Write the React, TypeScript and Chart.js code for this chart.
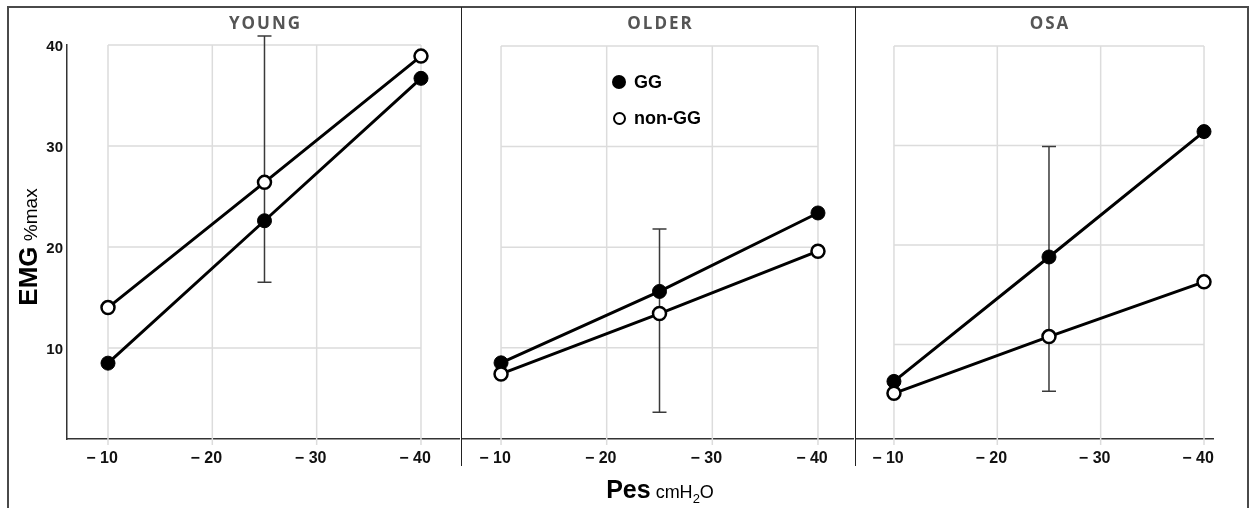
import React, { useEffect, useRef } from 'react';
import { Chart, registerables } from 'chart.js';

Chart.register(...registerables);

// ---- data ----
const PRESSURE = [-10, -25, -40];
const X_TICKS = [-10, -20, -30, -40];
const X_TICK_LABELS = ['− 10', '− 20', '− 30', '− 40'];
const Y_TICKS = [10, 20, 30, 40];
const Y_TICK_LABELS = ['10', '20', '30', '40'];
const PANEL_TITLES = ['YOUNG', 'OLDER', 'OSA'];
const SERIES_NAMES = ['GG', 'non-GG'];

const YOUNG_GG = [8.5, 22.6, 36.7];
const YOUNG_NON_GG = [14.0, 26.4, 38.9];
const OLDER_GG = [8.5, 15.6, 23.4];
const OLDER_NON_GG = [7.4, 13.4, 19.6];
const OSA_GG = [6.3, 18.8, 31.4];
const OSA_NON_GG = [5.1, 10.8, 16.3];

// error bar (low, high) at Pes = -25
const ERROR_AT = -25;
const YOUNG_ERR = [16.5, 40.9];
const OLDER_ERR = [3.6, 21.8];
const OSA_ERR = [5.3, 29.9];

const FONT = "'Liberation Sans', Arial, Helvetica, sans-serif";

const PANELS = [
  { title: PANEL_TITLES[0], gg: YOUNG_GG, non: YOUNG_NON_GG, err: YOUNG_ERR, left: 9, width: 451, padTop: 37, padRight: 0, xMin: -43.74, xMax: -6.07, yMin: 0.99, showY: true },
  { title: PANEL_TITLES[1], gg: OLDER_GG, non: OLDER_NON_GG, err: OLDER_ERR, left: 461, width: 393, padTop: 38, padRight: 0, xMin: -43.41, xMax: -6.21, yMin: 0.93, showY: false },
  { title: PANEL_TITLES[2], gg: OSA_GG, non: OSA_NON_GG, err: OSA_ERR, left: 855, width: 392, padTop: 38, padRight: 34, xMin: -40.87, xMax: -6.23, yMin: 0.51, showY: false },
];

const CANVAS_TOP = 8;
const CANVAS_H = 470;

const gridAndErrorPlugin = {
  id: 'gridAndError',
  beforeDatasetsDraw(chart: any, _args: any, opts: any) {
    const { ctx, scales, chartArea } = chart;
    const x = scales.x;
    const y = scales.y;
    const x0 = x.getPixelForValue(X_TICKS[0]);
    const x1 = x.getPixelForValue(X_TICKS[X_TICKS.length - 1]);
    const yTop = y.getPixelForValue(Y_TICKS[Y_TICKS.length - 1]);
    ctx.save();
    ctx.strokeStyle = '#dcdcdc';
    ctx.lineWidth = 1.5;
    ctx.beginPath();
    X_TICKS.forEach((v) => {
      const px = x.getPixelForValue(v);
      ctx.moveTo(px, yTop);
      ctx.lineTo(px, chartArea.bottom + 6);
    });
    Y_TICKS.forEach((v) => {
      const py = y.getPixelForValue(v);
      ctx.moveTo(x0, py);
      ctx.lineTo(x1, py);
    });
    ctx.stroke();
    // error bar
    const err = opts.err as number[];
    const ex = x.getPixelForValue(ERROR_AT);
    const lo = y.getPixelForValue(err[0]);
    const hi = y.getPixelForValue(err[1]);
    ctx.strokeStyle = '#3a3a3a';
    ctx.lineWidth = 1.5;
    ctx.beginPath();
    ctx.moveTo(ex, lo);
    ctx.lineTo(ex, hi);
    ctx.moveTo(ex - 7, lo);
    ctx.lineTo(ex + 7, lo);
    ctx.moveTo(ex - 7, hi);
    ctx.lineTo(ex + 7, hi);
    ctx.stroke();
    ctx.restore();
  },
};

const panelTitlePlugin = {
  id: 'panelTitle',
  afterDraw(chart: any, _args: any, opts: any) {
    const { ctx, scales } = chart;
    const x = scales.x;
    const cx = (x.getPixelForValue(X_TICKS[0]) + x.getPixelForValue(X_TICKS[X_TICKS.length - 1])) / 2;
    ctx.save();
    ctx.font = "bold 17px 'Open Sans'";
    try { (ctx as any).letterSpacing = '2px'; } catch (e) {}
    ctx.fillStyle = '#555555';
    ctx.textAlign = 'center';
    ctx.textBaseline = 'middle';
    ctx.fillText(opts.text, cx + 1, 16);
    ctx.restore();
  },
};

function Panel({ cfg }: { cfg: any }) {
  const ref = useRef<HTMLCanvasElement | null>(null);
  useEffect(() => {
    if (!ref.current) return;
    const chart = new Chart(ref.current, {
      type: 'line',
      data: {
        datasets: [
          {
            label: SERIES_NAMES[1],
            data: PRESSURE.map((p, i) => ({ x: p, y: cfg.non[i] })),
            borderColor: '#000',
            borderWidth: 3,
            pointRadius: 6.5,
            pointBackgroundColor: '#fff',
            pointBorderColor: '#000',
            pointBorderWidth: 2.5,
            clip: false as any,
            tension: 0,
          },
          {
            label: SERIES_NAMES[0],
            data: PRESSURE.map((p, i) => ({ x: p, y: cfg.gg[i] })),
            borderColor: '#000',
            borderWidth: 3,
            pointRadius: 7,
            pointBackgroundColor: '#000',
            pointBorderColor: '#000',
            pointBorderWidth: 1,
            clip: false as any,
            tension: 0,
          },
        ],
      },
      options: {
        responsive: false,
        maintainAspectRatio: false,
        animation: false,
        events: [],
        layout: { autoPadding: false, padding: { top: cfg.padTop, right: cfg.padRight, left: 0, bottom: 0 } },
        plugins: {
          legend: { display: false },
          tooltip: { enabled: false },
          title: { display: false },
          gridAndError: { err: cfg.err },
          panelTitle: { text: cfg.title },
        } as any,
        scales: {
          x: {
            type: 'linear',
            reverse: true,
            min: cfg.xMin,
            max: cfg.xMax,
            grid: { display: false, drawTicks: false },
            border: { display: true, color: '#333', width: 1.5 },
            afterBuildTicks: (scale: any) => {
              scale.ticks = X_TICKS.map((v) => ({ value: v }));
            },
            afterFit: (scale: any) => {
              scale.height = 39;
              scale.paddingLeft = 0;
              scale.paddingRight = 0;
            },
            ticks: {
              autoSkip: false,
              maxRotation: 0,
              padding: 10,
              labelOffset: -6,
              color: '#111',
              font: { family: FONT, size: 16, weight: 'bold' },
              callback: (v: any) => X_TICK_LABELS[X_TICKS.indexOf(Number(v))] ?? '',
            },
          },
          y: {
            type: 'linear',
            display: cfg.showY,
            min: cfg.yMin,
            max: 40,
            grid: { display: false, drawTicks: false },
            border: { display: true, color: '#333', width: 1.5 },
            afterBuildTicks: (scale: any) => {
              scale.ticks = Y_TICKS.map((v) => ({ value: v }));
            },
            afterFit: (scale: any) => {
              scale.width = cfg.showY ? 58 : 0;
              scale.paddingTop = 0;
              scale.paddingBottom = 0;
            },
            ticks: {
              autoSkip: false,
              padding: 4,
              labelOffset: 2,
              color: '#111',
              font: { family: FONT, size: 15, weight: 'bold' },
              callback: (v: any) => Y_TICK_LABELS[Y_TICKS.indexOf(Number(v))] ?? '',
            },
          },
        },
      },
      plugins: [gridAndErrorPlugin, panelTitlePlugin],
    } as any);
    return () => chart.destroy();
  }, []);
  return (
    <canvas
      ref={ref}
      width={cfg.width}
      height={CANVAS_H}
      style={{ position: 'absolute', left: cfg.left, top: CANVAS_TOP, width: cfg.width, height: CANVAS_H }}
    />
  );
}

export default function App() {
  return (
    <div
      style={{
        position: 'fixed',
        left: 0,
        top: 0,
        width: 1253,
        height: 508,
        overflow: 'hidden',
        background: '#fff',
        fontFamily: FONT,
      }}
    >
      {PANELS.map((p) => (
        <Panel key={p.title} cfg={p} />
      ))}
      {/* outer frame */}
      <div
        style={{
          position: 'absolute',
          left: 7,
          top: 6,
          width: 1238,
          height: 530,
          border: '2px solid #4a4a4a',
          pointerEvents: 'none',
        }}
      />
      {/* panel dividers */}
      <div style={{ position: 'absolute', left: 460.5, top: 7, width: 1.3, height: 459, background: '#222' }} />
      <div style={{ position: 'absolute', left: 854.5, top: 7, width: 1.3, height: 459, background: '#222' }} />
      {/* legend */}
      <div style={{ position: 'absolute', left: 612, top: 72, color: '#000', fontWeight: 'bold', fontSize: 18, lineHeight: '20px' }}>
        <div style={{ display: 'flex', alignItems: 'center', height: 20 }}>
          <div style={{ width: 14, height: 14, borderRadius: '50%', background: '#000', boxSizing: 'border-box' }} />
          <span style={{ marginLeft: 8 }}>{SERIES_NAMES[0]}</span>
        </div>
        <div style={{ display: 'flex', alignItems: 'center', height: 20, marginTop: 16 }}>
          <div style={{ width: 13, height: 13, borderRadius: '50%', background: '#fff', border: '2.5px solid #000', boxSizing: 'border-box', marginLeft: 0.5 }} />
          <span style={{ marginLeft: 8.5 }}>{SERIES_NAMES[1]}</span>
        </div>
      </div>
      {/* y axis title */}
      <div
        style={{
          position: 'absolute',
          left: 30,
          top: 247,
          transform: 'translate(-50%, -50%) rotate(-90deg)',
          whiteSpace: 'nowrap',
          color: '#000',
          lineHeight: '26px',
        }}
      >
        <span style={{ fontWeight: 'bold', fontSize: 26 }}>EMG</span>
        <span style={{ fontSize: 19 }}> %max</span>
      </div>
      {/* x axis title */}
      <div
        style={{
          position: 'absolute',
          left: 660,
          top: 475,
          transform: 'translateX(-50%)',
          whiteSpace: 'nowrap',
          color: '#000',
        }}
      >
        <span style={{ fontWeight: 'bold', fontSize: 25 }}>Pes</span>
        <span style={{ fontSize: 18 }}>
          {' '}cmH<sub style={{ fontSize: 13, verticalAlign: -5 }}>2</sub>O
        </span>
      </div>
    </div>
  );
}
